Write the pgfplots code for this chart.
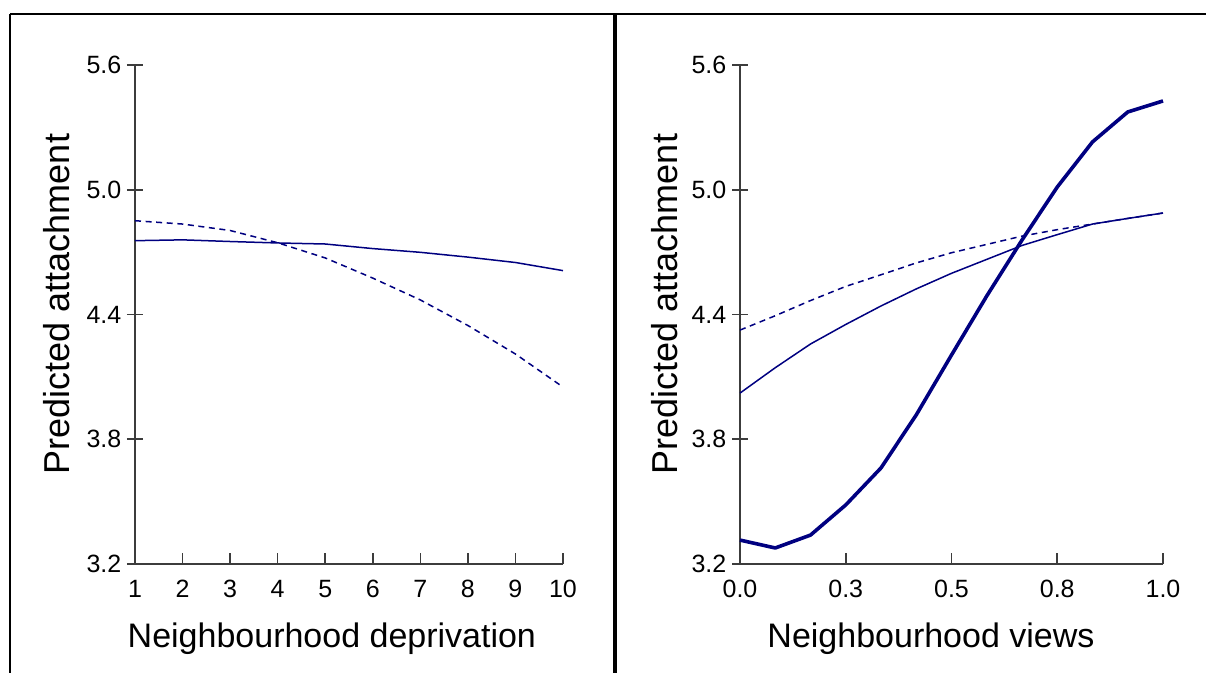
\documentclass[border=0pt]{standalone}
\usepackage{pgfplots}
\pgfplotsset{compat=1.18}
\usepackage{fontspec}
\setmainfont{Liberation Sans}
\definecolor{navyline}{RGB}{0,0,128}
\definecolor{axgray}{RGB}{60,60,60}

\pgfplotsset{
  panel/.style={
    scale only axis,
    height=249.5pt,
    axis x line*=bottom,
    axis y line*=left,
    axis line style={axgray, line width=0.8pt, -},
    ymin=3.2, ymax=5.6,
    ytick={3.2,3.8,4.4,5.0,5.6},
    yticklabel style={/pgf/number format/fixed, /pgf/number format/fixed zerofill, /pgf/number format/precision=1, font=\fontsize{12.5}{14}\selectfont, xshift=-1.2pt},
    /pgf/number format/assume math mode=true,
    xticklabel style={font=\fontsize{12.5}{14}\selectfont, yshift=-4.5pt},
    ytick style={axgray, line width=0.8pt, /pgfplots/major tick length=8pt},
    xtick style={axgray, line width=0.8pt, /pgfplots/major tick length=5.5pt},
    ytick align=center,
    xtick align=inside,
    xlabel style={font=\fontsize{17}{20}\selectfont},
    ylabel style={font=\fontsize{18}{21}\selectfont},
    ylabel={Predicted attachment},
    clip=false,
  },
  thinline/.style={navyline, line width=0.75pt, no marks},
  dashline/.style={navyline, line width=0.75pt, no marks, dash pattern=on 3pt off 2.3pt},
  thickline/.style={navyline, line width=1.8pt, no marks, line join=round},
}

\begin{document}
\begin{tikzpicture}
\path[use as bounding box] (0,0) rectangle (603pt,336.5pt);
% frame lines
\draw[black, line width=1pt] (5pt,329.5pt) -- (603pt,329.5pt);
\draw[black, line width=1pt] (5pt,329.5pt) -- (5pt,0pt);
\draw[black, line width=1.6pt] (307.5pt,329.5pt) -- (307.5pt,0pt);

% left panel
\begin{axis}[panel,
  at={(67.5pt,54.5pt)}, anchor=origin,
  width=214pt,
  xmin=1, xmax=10,
  xtick={1,2,...,10},
  xlabel={Neighbourhood deprivation},
  xlabel style={at={(axis description cs:0.46,-0.15)}, anchor=center},
  ylabel style={at={(axis description cs:-0.182,0.521)}, anchor=center, rotate=0},
]
\addplot[thinline] coordinates {
(1,4.755) (2,4.759) (3,4.751) (4,4.744) (5,4.739) (6,4.717) (7,4.699) (8,4.676) (9,4.650) (10,4.611)
};
\addplot[dashline] coordinates {
(1,4.851) (2,4.835) (3,4.804) (4,4.745) (5,4.672) (6,4.575) (7,4.470) (8,4.347) (9,4.210) (10,4.051)
};
\end{axis}

% right panel
\begin{axis}[panel,
  at={(370pt,54.5pt)}, anchor=origin,
  width=211.5pt,
  xmin=0, xmax=1,
  xtick={0,0.25,0.5,0.75,1},
  xticklabels={0.0,0.3,0.5,0.8,1.0},
  xlabel={Neighbourhood views},
  xlabel style={at={(axis description cs:0.4515,-0.15)}, anchor=center},
  ylabel style={at={(axis description cs:-0.177,0.521)}, anchor=center, rotate=0},
]
\addplot[thickline] coordinates {
(0,3.315) (0.08333,3.277) (0.16667,3.339) (0.25,3.484) (0.33333,3.662) (0.41667,3.917) (0.5,4.205) (0.58333,4.489) (0.66667,4.758) (0.75,5.013) (0.83333,5.230) (0.91667,5.374) (1,5.427)
};
\addplot[thinline] coordinates {
(0,4.022) (0.08333,4.144) (0.16667,4.258) (0.25,4.352) (0.33333,4.441) (0.41667,4.523) (0.5,4.598) (0.58333,4.665) (0.66667,4.732) (0.75,4.784) (0.83333,4.835) (0.91667,4.862) (1,4.888)
};
\addplot[dashline] coordinates {
(0,4.325) (0.08333,4.394) (0.16667,4.467) (0.25,4.535) (0.33333,4.591) (0.41667,4.648) (0.5,4.697) (0.58333,4.737) (0.66667,4.777) (0.75,4.808) (0.83333,4.835) (0.91667,4.862) (1,4.888)
};
\end{axis}
\end{tikzpicture}
\end{document}
